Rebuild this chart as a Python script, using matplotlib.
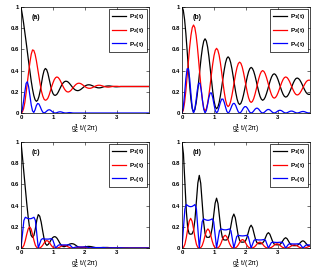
import numpy as np
import matplotlib
matplotlib.use("Agg")
import matplotlib.pyplot as plt
from matplotlib.lines import Line2D

plt.rcParams['font.family'] = ['Liberation Sans', 'DejaVu Sans']
plt.rcParams['font.weight'] = 'bold'
plt.rcParams['mathtext.fontset'] = 'custom'
plt.rcParams['mathtext.rm'] = 'Liberation Sans:bold'
plt.rcParams['mathtext.it'] = 'Liberation Sans:bold'
plt.rcParams['mathtext.bf'] = 'Liberation Sans:bold'

# ---------------- data ----------------
t_ab = np.linspace(0, 4.0, 101)          # time grid of panels (a), (b)
t_cd = np.linspace(0, 4.005, 90)         # time grid of panels (c), (d)

a_P1 = [1.000, 0.930, 0.850, 0.760, 0.670, 0.575, 0.480, 0.390, 0.300, 0.225,
        0.165, 0.125, 0.110, 0.120, 0.155, 0.210, 0.280, 0.350, 0.400, 0.420,
        0.410, 0.375, 0.320, 0.265, 0.215, 0.183, 0.168, 0.167, 0.176, 0.195,
        0.220, 0.245, 0.268, 0.285, 0.296, 0.300, 0.298, 0.290, 0.277, 0.262,
        0.246, 0.232, 0.221, 0.214, 0.211, 0.212, 0.217, 0.225, 0.235, 0.245,
        0.254, 0.261, 0.265, 0.266, 0.265, 0.261, 0.256, 0.250, 0.245, 0.241,
        0.238, 0.237, 0.238, 0.241, 0.245, 0.249, 0.252, 0.254, 0.255, 0.255,
        0.254, 0.252, 0.250, 0.248, 0.247, 0.247, 0.248, 0.249, 0.250, 0.250,
        0.250, 0.250, 0.250, 0.250, 0.250, 0.250, 0.250, 0.250, 0.250, 0.250,
        0.250, 0.250, 0.250, 0.250, 0.250, 0.250, 0.250, 0.250, 0.250, 0.250,
        0.250]
a_P2 = [0.000, 0.008, 0.040, 0.100, 0.190, 0.290, 0.390, 0.480, 0.555, 0.595,
        0.590, 0.555, 0.495, 0.420, 0.345, 0.270, 0.205, 0.160, 0.130, 0.120,
        0.125, 0.140, 0.170, 0.210, 0.250, 0.285, 0.315, 0.333, 0.340, 0.335,
        0.320, 0.298, 0.272, 0.247, 0.225, 0.209, 0.200, 0.198, 0.203, 0.213,
        0.228, 0.243, 0.258, 0.270, 0.278, 0.281, 0.280, 0.275, 0.267, 0.258,
        0.249, 0.241, 0.236, 0.233, 0.233, 0.236, 0.241, 0.247, 0.253, 0.258,
        0.261, 0.262, 0.261, 0.258, 0.254, 0.250, 0.247, 0.245, 0.244, 0.245,
        0.247, 0.249, 0.251, 0.252, 0.252, 0.252, 0.251, 0.250, 0.250, 0.250,
        0.250, 0.250, 0.250, 0.250, 0.250, 0.250, 0.250, 0.250, 0.250, 0.250,
        0.250, 0.250, 0.250, 0.250, 0.250, 0.250, 0.250, 0.250, 0.250, 0.250,
        0.250]
a_Pc = [0.000, 0.030, 0.110, 0.200, 0.280, 0.295, 0.245, 0.160, 0.075, 0.020,
        0.005, 0.030, 0.070, 0.090, 0.085, 0.060, 0.030, 0.008, 0.001, 0.006,
        0.017, 0.027, 0.031, 0.027, 0.017, 0.007, 0.001, 0.000, 0.003, 0.008,
        0.011, 0.011, 0.008, 0.004, 0.001, 0.000, 0.001, 0.003, 0.004, 0.003,
        0.001] + [0.0] * 60

b_P1 = [1.000, 0.970, 0.884, 0.753, 0.591, 0.419, 0.258, 0.126, 0.040,
        0.010, 0.031, 0.091, 0.183, 0.295, 0.415, 0.528, 0.619, 0.679,
        0.700, 0.680, 0.623, 0.535, 0.427, 0.313, 0.205, 0.117, 0.060,
        0.040, 0.055, 0.097, 0.163, 0.242, 0.328, 0.408, 0.473, 0.515,
        0.530, 0.516, 0.477, 0.418, 0.344, 0.266, 0.193, 0.133, 0.094,
        0.080, 0.091, 0.121, 0.168, 0.225, 0.285, 0.343, 0.389, 0.419,
        0.430, 0.421, 0.394, 0.353, 0.302, 0.248, 0.198, 0.156, 0.130,
        0.120, 0.128, 0.149, 0.183, 0.223, 0.267, 0.308, 0.341, 0.362,
        0.370, 0.363, 0.344, 0.315, 0.279, 0.241, 0.205, 0.176, 0.157,
        0.150, 0.155, 0.171, 0.195, 0.224, 0.256, 0.285, 0.309, 0.325,
        0.330, 0.325, 0.312, 0.291, 0.266, 0.239, 0.214, 0.193, 0.180,
        0.175, 0.176]
b_P2 = [0.000, 0.025, 0.097, 0.208, 0.343, 0.487, 0.623, 0.733, 0.805,
        0.830, 0.806, 0.735, 0.628, 0.495, 0.355, 0.223, 0.115, 0.044,
        0.020, 0.038, 0.089, 0.168, 0.264, 0.366, 0.463, 0.541, 0.592,
        0.610, 0.593, 0.546, 0.473, 0.383, 0.287, 0.198, 0.124, 0.077,
        0.060, 0.073, 0.109, 0.165, 0.234, 0.306, 0.375, 0.431, 0.467,
        0.480, 0.469, 0.436, 0.385, 0.323, 0.257, 0.195, 0.144, 0.111,
        0.100, 0.109, 0.135, 0.175, 0.224, 0.276, 0.325, 0.365, 0.391,
        0.400, 0.392, 0.370, 0.335, 0.293, 0.247, 0.205, 0.170, 0.148,
        0.140, 0.146, 0.163, 0.190, 0.223, 0.257, 0.290, 0.317, 0.334,
        0.340, 0.335, 0.320, 0.298, 0.270, 0.240, 0.213, 0.190, 0.175,
        0.170, 0.174, 0.186, 0.205, 0.228, 0.252, 0.275, 0.294, 0.306,
        0.310, 0.309]
b_Pc = [0.000, 0.050, 0.178, 0.323, 0.417, 0.417, 0.323, 0.178, 0.050,
        0.000, 0.034, 0.120, 0.218, 0.281, 0.281, 0.218, 0.120, 0.034,
        0.000, 0.023, 0.081, 0.146, 0.189, 0.189, 0.146, 0.081, 0.023,
        0.000, 0.016, 0.056, 0.101, 0.131, 0.131, 0.101, 0.056, 0.016,
        0.000, 0.011, 0.038, 0.070, 0.090, 0.090, 0.070, 0.038, 0.011,
        0.000, 0.007, 0.026, 0.047, 0.060, 0.060, 0.047, 0.026, 0.007,
        0.000, 0.005, 0.019, 0.035, 0.045, 0.045, 0.035, 0.019, 0.005,
        0.000, 0.004, 0.014, 0.026, 0.033, 0.033, 0.026, 0.014, 0.004,
        0.000, 0.003, 0.011, 0.020, 0.025, 0.025, 0.020, 0.011, 0.003,
        0.000, 0.002, 0.008, 0.014, 0.018, 0.018, 0.014, 0.008, 0.002,
        0.000, 0.002, 0.006, 0.011, 0.014, 0.014, 0.011, 0.006, 0.002,
        0.000, 0.001]

c_P1 = [1.000, 0.860, 0.710, 0.565, 0.420, 0.290, 0.185, 0.120, 0.100, 0.120,
        0.185, 0.265, 0.315, 0.300, 0.245, 0.165, 0.090, 0.040, 0.025, 0.035,
        0.055, 0.080, 0.098, 0.107, 0.105, 0.092, 0.070, 0.045, 0.025, 0.014,
        0.012, 0.016, 0.024, 0.032, 0.038, 0.041, 0.040, 0.035, 0.026, 0.016,
        0.008, 0.004, 0.003, 0.005, 0.009, 0.012, 0.014, 0.015, 0.014, 0.012,
        0.009, 0.006, 0.003, 0.002, 0.002, 0.003, 0.004, 0.005, 0.005, 0.005,
        0.005, 0.004, 0.003, 0.002, 0.001, 0.001, 0.001, 0.001, 0.001, 0.001,
        0.001, 0.001, 0.001, 0.001, 0.001, 0.000, 0.000, 0.000, 0.000, 0.000,
        0.000, 0.000, 0.000, 0.000, 0.000, 0.000, 0.000, 0.000, 0.000, 0.000]
c_P2 = [0.000, 0.003, 0.025, 0.071, 0.130, 0.180, 0.200, 0.180, 0.130, 0.071, 0.025, 0.003,
        0.000, 0.001, 0.009, 0.025, 0.046, 0.063, 0.070, 0.063, 0.046, 0.025, 0.009, 0.001,
        0.000, 0.000, 0.003, 0.009, 0.016, 0.023, 0.025, 0.023, 0.016, 0.009, 0.003, 0.000,
        0.000, 0.000, 0.001, 0.003, 0.006, 0.008, 0.009, 0.008, 0.006, 0.003, 0.001, 0.000,
        0.000, 0.000, 0.000, 0.001, 0.002, 0.003, 0.003, 0.003, 0.002, 0.001, 0.000, 0.000,
        0.000, 0.000, 0.000, 0.000, 0.001, 0.001, 0.001, 0.001, 0.001, 0.000, 0.000, 0.000] + [0.0] * 18
c_Pc = [0.000, 0.130, 0.260, 0.290, 0.283, 0.277, 0.276, 0.277, 0.283, 0.290, 0.260, 0.130,
        0.000, 0.040, 0.079, 0.088, 0.086, 0.084, 0.084, 0.084, 0.086, 0.088, 0.079, 0.040,
        0.000, 0.0135, 0.027, 0.030, 0.029, 0.029, 0.0285, 0.029, 0.029, 0.030, 0.027, 0.0135,
        0.000, 0.0045, 0.009, 0.010, 0.010, 0.0095, 0.0095, 0.0095, 0.010, 0.010, 0.009, 0.0045,
        0.000, 0.002, 0.0036, 0.004, 0.004, 0.004, 0.004, 0.004, 0.004, 0.004, 0.0036, 0.002,
        0.000, 0.0007, 0.0013, 0.0015, 0.0015, 0.0015, 0.0015, 0.0015, 0.0015, 0.0015, 0.0013, 0.0007] + [0.0] * 18

d_P1 = [1.000, 0.888, 0.619, 0.348, 0.184, 0.134, 0.130,
        0.133, 0.165, 0.269, 0.442, 0.613, 0.685,
        0.610, 0.429, 0.246, 0.137, 0.103, 0.100,
        0.102, 0.123, 0.193, 0.308, 0.422, 0.470,
        0.419, 0.297, 0.174, 0.100, 0.077, 0.075,
        0.076, 0.090, 0.136, 0.213, 0.288, 0.320,
        0.286, 0.204, 0.121, 0.072, 0.056, 0.055,
        0.056, 0.065, 0.095, 0.145, 0.194, 0.215,
        0.192, 0.138, 0.084, 0.051, 0.041, 0.040,
        0.040, 0.047, 0.066, 0.099, 0.131, 0.145,
        0.130, 0.095, 0.059, 0.037, 0.031, 0.030,
        0.030, 0.034, 0.047, 0.068, 0.088, 0.097,
        0.087, 0.064, 0.041, 0.027, 0.022, 0.022,
        0.022, 0.025, 0.034, 0.048, 0.062, 0.068,
        0.061, 0.045, 0.029, 0.019, 0.016]
d_P2 = [0.000, 0.005, 0.035, 0.099, 0.182, 0.252, 0.280, 0.252, 0.182, 0.099, 0.035, 0.005,
        0.000, 0.003, 0.0225, 0.064, 0.117, 0.162, 0.180, 0.162, 0.117, 0.064, 0.0225, 0.003,
        0.000, 0.002, 0.015, 0.042, 0.078, 0.108, 0.120, 0.108, 0.078, 0.042, 0.015, 0.002,
        0.000, 0.001, 0.010, 0.028, 0.052, 0.072, 0.080, 0.072, 0.052, 0.028, 0.010, 0.001,
        0.000, 0.001, 0.007, 0.019, 0.036, 0.050, 0.055, 0.050, 0.036, 0.019, 0.007, 0.001,
        0.000, 0.001, 0.005, 0.014, 0.026, 0.036, 0.040, 0.036, 0.026, 0.014, 0.005, 0.001,
        0.000, 0.001, 0.004, 0.011, 0.0195, 0.027, 0.030, 0.027, 0.0195, 0.011, 0.004, 0.001,
        0.000, 0.000, 0.003, 0.008, 0.014, 0.020]
d_Pc = [0.000, 0.185, 0.369, 0.410, 0.400, 0.392, 0.390, 0.392, 0.400, 0.410, 0.369, 0.185,
        0.000, 0.124, 0.248, 0.275, 0.268, 0.263, 0.261, 0.263, 0.268, 0.275, 0.248, 0.124,
        0.000, 0.081, 0.162, 0.180, 0.176, 0.172, 0.171, 0.172, 0.176, 0.180, 0.162, 0.081,
        0.000, 0.054, 0.108, 0.120, 0.117, 0.115, 0.114, 0.115, 0.117, 0.120, 0.108, 0.054,
        0.000, 0.036, 0.072, 0.080, 0.078, 0.076, 0.076, 0.076, 0.078, 0.080, 0.072, 0.036,
        0.000, 0.025, 0.050, 0.055, 0.054, 0.053, 0.052, 0.053, 0.054, 0.055, 0.050, 0.025,
        0.000, 0.018, 0.036, 0.040, 0.039, 0.038, 0.038, 0.038, 0.039, 0.040, 0.036, 0.018,
        0.000, 0.0135, 0.027, 0.030, 0.029, 0.029]

panel_labels = ["(a)", "(b)", "(c)", "(d)"]
series_labels = ["P$_1$(t)", "P$_2$(t)", "P$_c$(t)"]
series_colors = ["black", "red", "blue"]
x_ticks = [0, 1, 2, 3]
y_ticks = [0, 0.2, 0.4, 0.6, 0.8, 1]
y_ticklabels = ["0", "0.2", "0.4", "0.6", "0.8", "1"]
xlabel = "g$_c^1$ t/(2\u03c0)"

panels = [
    (t_ab, [a_P1, a_P2, a_Pc]),
    (t_ab, [b_P1, b_P2, b_Pc]),
    (t_cd, [c_P1, c_P2, c_Pc]),
    (t_cd, [d_P1, d_P2, d_Pc]),
]

# ---------------- layout ----------------
W, H = 314, 275
fig = plt.figure(figsize=(W / 100, H / 100), dpi=100)
boxes = [(21, 7), (182, 7), (21, 142), (182, 142)]   # left, top in px
aw, ah = 128, 106

for (x0, y0), (t, series), plab in zip(boxes, panels, panel_labels):
    ax = fig.add_axes([x0 / W, 1 - (y0 + ah) / H, aw / W, ah / H])
    for vals, c, lab in zip(series, series_colors, series_labels):
        ax.plot(t, vals, color=c, lw=0.9, label=lab)
    ax.set_xlim(0, 4)
    ax.set_ylim(0, 1)
    ax.set_xticks(x_ticks)
    ax.set_xticklabels([str(v) for v in x_ticks])
    ax.set_yticks(y_ticks)
    ax.set_yticklabels(y_ticklabels)
    ax.tick_params(direction='in', length=2, width=0.4, labelsize=4.3,
                   pad=1.2, top=True, right=True)
    for s in ax.spines.values():
        s.set_linewidth(0.5)
    ax.set_xlabel(xlabel, fontsize=5, labelpad=2)
    ax.text(0.32, 0.9, plab, fontsize=5, fontweight='bold',
            ha='left', va='center')
    leg = ax.legend(loc='upper right', fontsize=4.6, handlelength=2.3,
                    handletextpad=0.4, borderpad=0.45, labelspacing=0.75,
                    borderaxespad=0.35, fancybox=False, framealpha=1,
                    edgecolor='black')
    leg.get_frame().set_linewidth(0.5)
    for ln in leg.get_lines():
        ln.set_linewidth(0.9)

fig.savefig("out.png", dpi=100)
